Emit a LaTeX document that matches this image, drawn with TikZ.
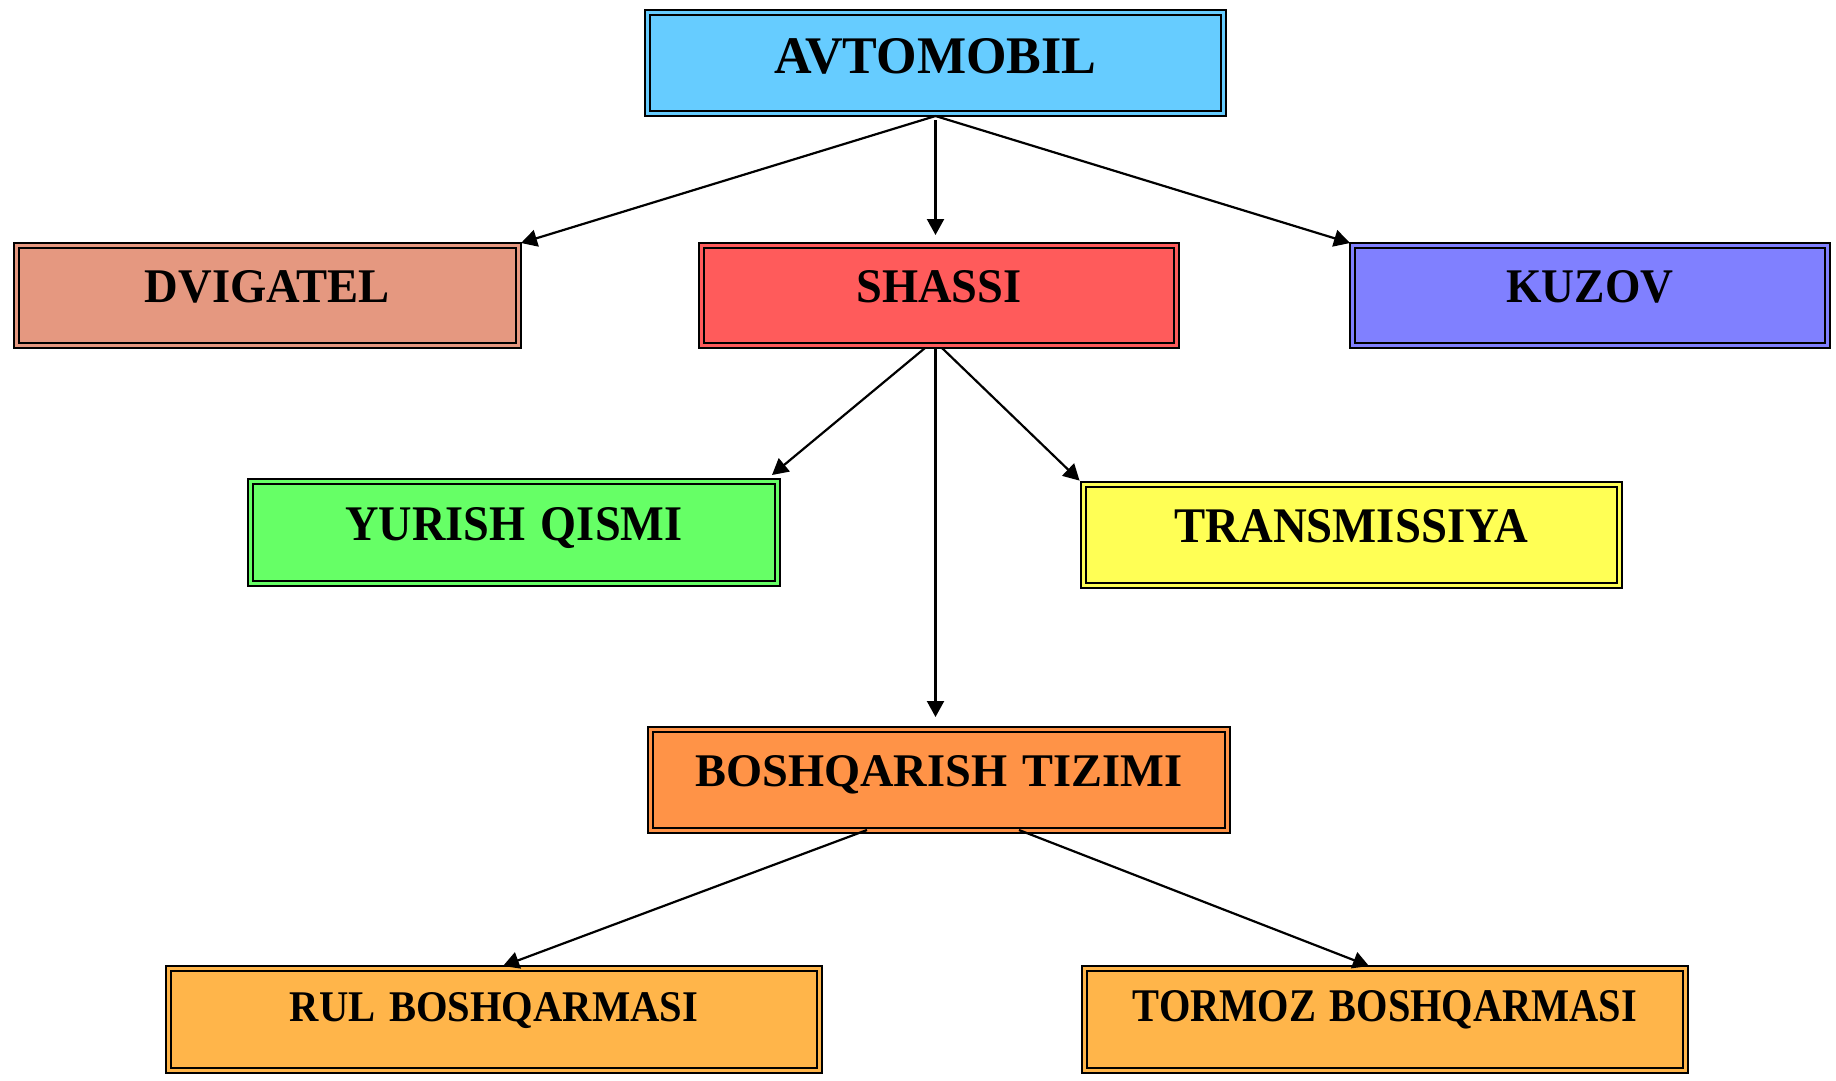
\documentclass[tikz,border=0pt]{standalone}
\usepackage{fontspec}
\setmainfont{Liberation Serif}
\usetikzlibrary{arrows.meta,calc}
\definecolor{cAvto}{RGB}{102,204,255}
\definecolor{cDvig}{RGB}{229,152,128}
\definecolor{cShassi}{RGB}{255,91,91}
\definecolor{cKuzov}{RGB}{128,128,255}
\definecolor{cYurish}{RGB}{102,255,102}
\definecolor{cTrans}{RGB}{255,255,85}
\definecolor{cBosh}{RGB}{255,147,71}
\definecolor{cRul}{RGB}{255,181,74}
\newcommand{\boxtxt}[3]{\resizebox{#1pt}{#2pt}{#3}}
\tikzset{
  box/.style={draw=black, line width=1.6pt, inner sep=0pt, outer sep=0pt,
    align=center, anchor=north west, font=\bfseries,
    path picture={\draw[black, line width=2.8pt]
      ([shift={(5pt,5pt)}]path picture bounding box.south west) rectangle
      ([shift={(-5pt,-5pt)}]path picture bounding box.north east);}},
  conn/.style={draw=black, line width=2.2pt, -{Triangle[length=16pt,width=17pt]}},
}
\begin{document}
\begin{tikzpicture}[x=1pt,y=-1pt]
\useasboundingbox (0,0) rectangle (1836,1080);
\node[box, fill=cAvto, text width=581pt, text height=63.5pt, text depth=42.5pt] (avto) at (645,10) {\boxtxt{322}{35}{AVTOMOBIL}};
\node[box, fill=cDvig, text width=507pt, text height=59pt, text depth=46pt] (dvig) at (14,243) {\boxtxt{245}{32}{DVIGATEL}};
\node[box, fill=cShassi, text width=480pt, text height=59pt, text depth=46pt] (shassi) at (699,243) {\boxtxt{165}{32}{SHASSI}};
\node[box, fill=cKuzov, text width=480pt, text height=59pt, text depth=46pt] (kuzov) at (1350,243) {\boxtxt{167}{32}{KUZOV}};
\node[box, fill=cYurish, text width=532pt, text height=61pt, text depth=46pt] (yurish) at (248,479) {\boxtxt{337}{33}{YURISH QISMI}};
\node[box, fill=cTrans, text width=541pt, text height=60pt, text depth=46pt] (trans) at (1081,482) {\boxtxt{354}{33}{TRANSMISSIYA}};
\node[box, fill=cBosh, text width=582pt, text height=59pt, text depth=47pt] (bosh) at (648,727) {\boxtxt{487}{31}{BOSHQARISH TIZIMI}};
\node[box, fill=cRul, text width=656pt, text height=55pt, text depth=52pt] (rul) at (166,966) {\boxtxt{408}{29}{RUL BOSHQARMASI}};
\node[box, fill=cRul, text width=606pt, text height=55pt, text depth=52pt] (tormoz) at (1082,966) {\boxtxt{504}{31}{TORMOZ BOSHQARMASI}};

\draw[conn] (avto.south) -- (dvig.north east);
\draw[conn] (avto.south) -- (kuzov.north west);
\draw[conn, shorten <=4pt, shorten >=8pt] (avto.south) -- (avto.south |- shassi.north);
\draw[conn] ([xshift=-14pt]shassi.south) -- ([shift={(-8pt,4pt)}]yurish.north east);
\draw[conn, shorten >=2pt] ([xshift=3pt]shassi.south) -- (trans.north west);
\draw[conn, shorten >=10pt] (shassi.south -| avto.south) -- (bosh.north -| avto.south);
\draw[conn] ([shift={(-72pt,3pt)}]bosh.south) -- ([xshift=9pt]rul.north);
\draw[conn] ([shift={(80pt,3pt)}]bosh.south) -- ([xshift=-16pt]tormoz.north);
\end{tikzpicture}
\end{document}
